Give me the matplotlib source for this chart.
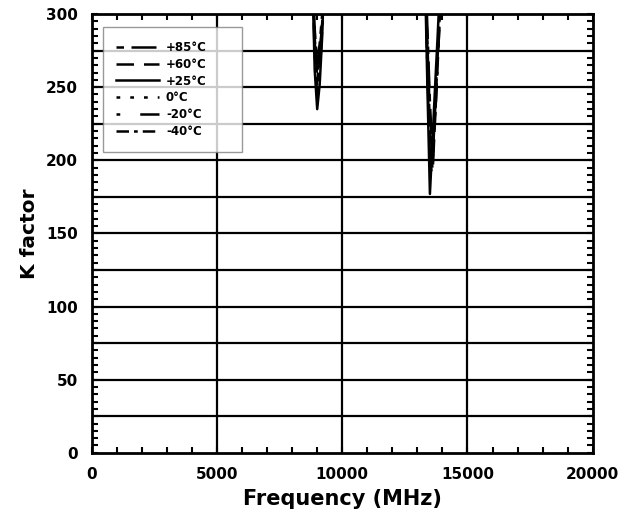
import numpy as np
import matplotlib
matplotlib.use("Agg")
from matplotlib import pyplot as plt
from matplotlib.ticker import MultipleLocator

plt.rcParams['font.family'] = ['DejaVu Sans']
plt.rcParams['font.weight'] = 'bold'

# frequency grid (MHz) and K factor per temperature
freq_mhz = [8000, 8800, 8900, 9000, 9100, 9200, 9300, 10000,
            13000, 13300, 13400, 13500, 13600, 13700, 13800, 13900, 14000, 15000]
k_p85 = [600, 335, 290, 266, 280, 300, 345, 800, 700, 345, 290, 240, 205, 235, 270, 305, 345, 900]
k_p60 = [600, 332, 284, 258, 272, 295, 342, 800, 700, 340, 280, 230, 200, 225, 262, 300, 340, 900]
k_p25 = [600, 330, 262, 235, 252, 285, 340, 800, 700, 330, 250, 177, 212, 248, 282, 318, 355, 900]
k_0 = [600, 333, 278, 250, 266, 292, 342, 800, 700, 335, 270, 215, 195, 230, 268, 305, 345, 900]
k_m20 = [600, 331, 272, 244, 260, 290, 341, 800, 700, 332, 262, 200, 188, 226, 262, 300, 342, 900]
k_m40 = [600, 334, 282, 254, 270, 294, 343, 800, 700, 338, 276, 222, 198, 232, 268, 304, 344, 900]

labels = ['+85\u00b0C', '+60\u00b0C', '+25\u00b0C', '0\u00b0C', '-20\u00b0C', '-40\u00b0C']
series = [k_p85, k_p60, k_p25, k_0, k_m20, k_m40]
styles = [(0, (3, 3, 10, 3)), (0, (7, 4)), '-', (0, (1.5, 4)),
          (0, (1.5, 8, 10, 3)), (0, (5, 2, 1.5, 2))]

fig = plt.figure(figsize=(6.2, 5.21), dpi=100)
ax = fig.add_axes([0.148, 0.131, 0.808, 0.842])

for x in [5000, 10000, 15000]:
    ax.axvline(x, color='black', lw=1.6, zorder=1)
for y in np.arange(25, 300, 25):
    ax.axhline(y, color='black', lw=1.6, zorder=1)

for k, lab, ls in zip(series, labels, styles):
    ax.plot(freq_mhz, k, color='black', lw=1.8, ls=ls, label=lab, zorder=3)

ax.set_xlim(0, 20000)
ax.set_ylim(0, 300)
ax.xaxis.set_major_locator(MultipleLocator(5000))
ax.xaxis.set_minor_locator(MultipleLocator(1000))
ax.yaxis.set_major_locator(MultipleLocator(50))
ax.yaxis.set_minor_locator(MultipleLocator(5))
ax.tick_params(which='both', direction='in', top=True, right=True,
               length=4, width=1.5, labelsize=11, pad=10)
for t in ax.get_xticklabels() + ax.get_yticklabels():
    t.set_fontweight('bold')
for s in ax.spines.values():
    s.set_linewidth(2)

ax.set_xlabel('Frequency (MHz)', fontsize=15, fontweight='bold', labelpad=5)
ax.set_ylabel('K factor', fontsize=14.5, fontweight='bold', labelpad=5)

leg = ax.legend(loc='upper left', bbox_to_anchor=(0.022, 0.970, 0.277, 0.0),
                mode='expand', fontsize=8.5,
                frameon=True, fancybox=False, handlelength=3.6,
                labelspacing=0.33, borderpad=1.15, handletextpad=0.6,
                borderaxespad=0)
leg.get_frame().set_edgecolor('#808080')
leg.get_frame().set_linewidth(1.0)
for t in leg.get_texts():
    t.set_fontweight('bold')

fig.savefig('out.png', dpi=100)
